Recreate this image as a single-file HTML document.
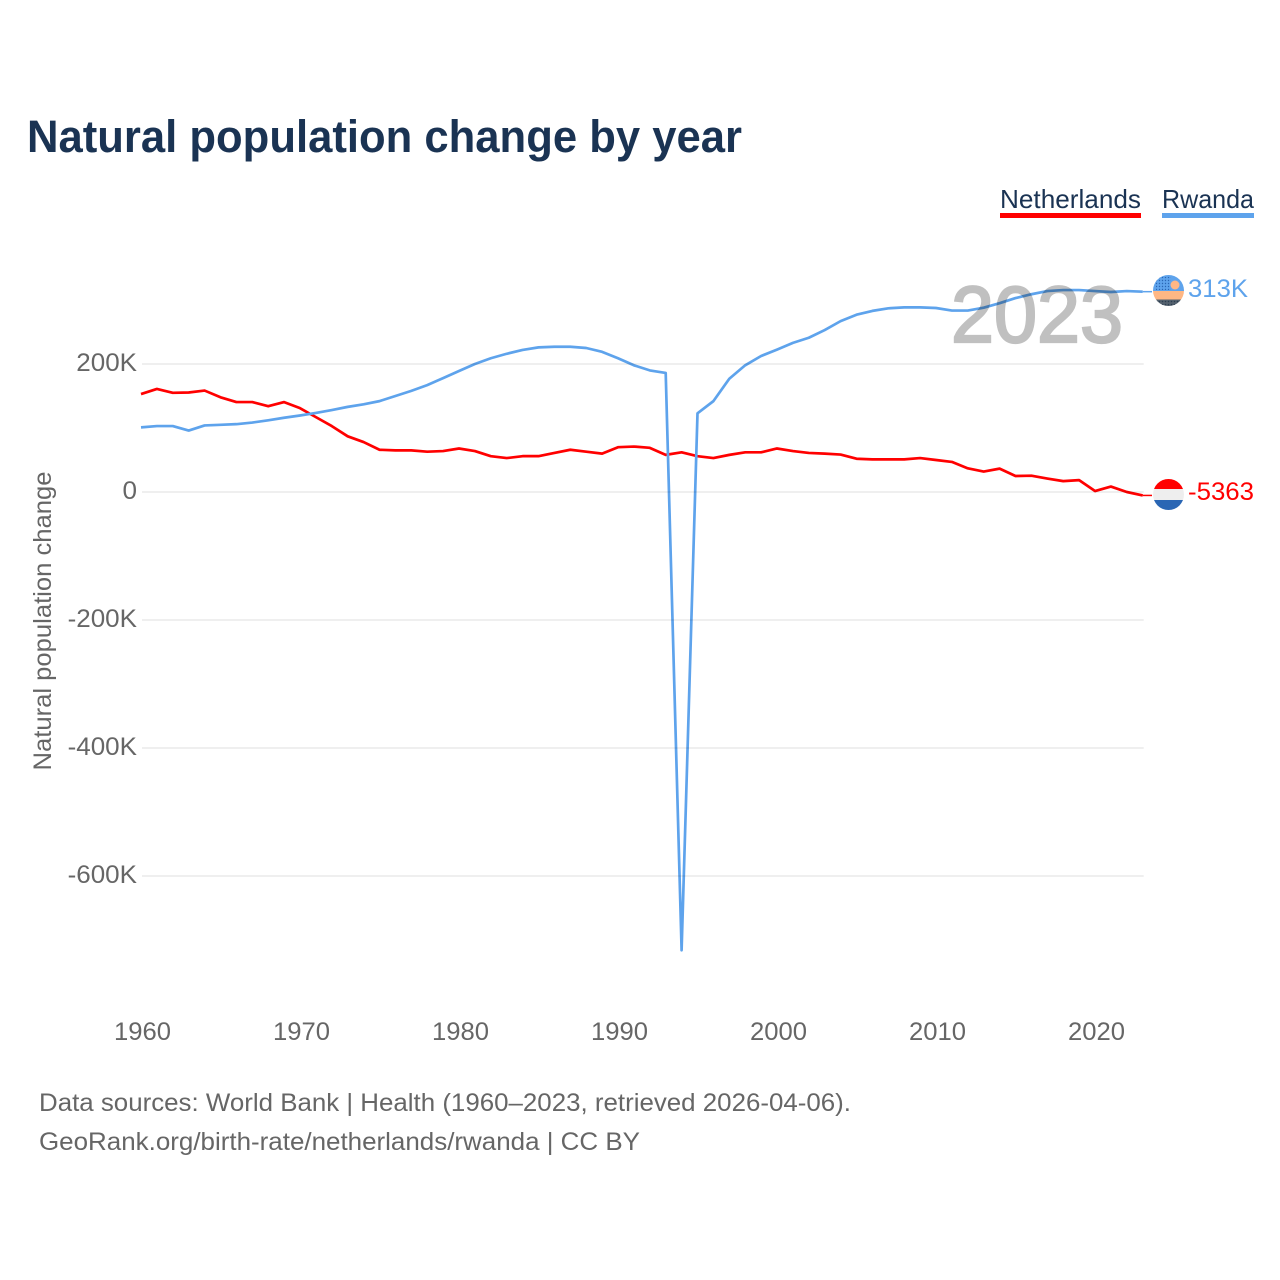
<!DOCTYPE html>
<html lang="en">
<head>
<meta charset="utf-8">
<title>Natural population change by year</title>
<style>
html,body{margin:0;padding:0;background:#fff;}
svg{display:block;font-family:"Liberation Sans",sans-serif;}
</style>
</head>
<body>
<svg id="chart" width="1280" height="1280" viewBox="0 0 1280 1280" xmlns="http://www.w3.org/2000/svg">
<defs>
<clipPath id="flag-clip-rw"><circle cx="1168.5" cy="290.5" r="15.5"/></clipPath>
<clipPath id="flag-clip-nl"><circle cx="1168.5" cy="494.5" r="15.5"/></clipPath>
<pattern id="dots-dark" width="3" height="3" patternUnits="userSpaceOnUse"><circle cx="1.5" cy="1.5" r="0.8" fill="#2c3e50"/></pattern>
<pattern id="dots-sky" width="3" height="3" patternUnits="userSpaceOnUse"><circle cx="1.5" cy="1.5" r="0.7" fill="#2a66b4"/></pattern>
</defs>
<rect width="1280" height="1280" fill="#fff"/>
<text x="27" y="152" font-size="45" font-weight="700" fill="#1a3353" textLength="715" lengthAdjust="spacingAndGlyphs">Natural population change by year</text>
<g id="grid"></g>
<g id="ylabels"></g>
<g id="xlabels"></g>
<text transform="translate(51,621) rotate(-90)" text-anchor="middle" font-size="25" fill="#666" textLength="299" lengthAdjust="spacingAndGlyphs">Natural population change</text>
<text x="951" y="342" font-size="80" font-weight="400" fill="#c0c0c0" stroke="#c0c0c0" stroke-width="2.2" textLength="172" lengthAdjust="spacingAndGlyphs">2023</text>
<g id="series" style="mix-blend-mode:multiply"></g>
<g>
<text x="1000" y="208" font-size="26" fill="#1a3353" textLength="141" lengthAdjust="spacingAndGlyphs">Netherlands</text>
<rect x="1000" y="213" width="141" height="5" fill="#ff0000"/>
</g>
<g>
<text x="1162" y="208" font-size="26" fill="#1a3353" textLength="92" lengthAdjust="spacingAndGlyphs">Rwanda</text>
<rect x="1162" y="213" width="92" height="5" fill="#5ea3ec"/>
</g>
<g clip-path="url(#flag-clip-rw)">
<rect x="1153" y="275" width="31" height="16" fill="#5ea3ec"/>
<rect x="1156" y="277" width="15" height="13" fill="url(#dots-sky)"/>
<rect x="1153" y="291" width="31" height="8.5" fill="#ffb784"/>
<rect x="1153" y="299.5" width="31" height="8" fill="#54616e"/>
<rect x="1153" y="299.5" width="31" height="8" fill="url(#dots-dark)"/>
<circle cx="1175" cy="285" r="4.5" fill="#ffb784"/>
</g>
<g clip-path="url(#flag-clip-nl)">
<rect x="1153" y="479" width="31" height="10" fill="#ff0000"/>
<rect x="1153" y="489" width="31" height="11" fill="#eeeeee"/>
<rect x="1153" y="500" width="31" height="10" fill="#2a66b4"/>
</g>
<text id="label-rw" x="1188" y="297" font-size="25" fill="#5ea3ec" textLength="60" lengthAdjust="spacingAndGlyphs"></text>
<text id="label-nl" x="1188" y="500" font-size="25" fill="#ff0000" textLength="66" lengthAdjust="spacingAndGlyphs"></text>
<text x="39" y="1111" font-size="25" fill="#666" textLength="812" lengthAdjust="spacingAndGlyphs">Data sources: World Bank | Health (1960–2023, retrieved 2026-04-06).</text>
<text x="39" y="1150" font-size="25" fill="#666" textLength="601" lengthAdjust="spacingAndGlyphs">GeoRank.org/birth-rate/netherlands/rwanda | CC BY</text>
</svg>
<script>
const firstYear = 1960;
const xTicks = [1960, 1970, 1980, 1990, 2000, 2010, 2020];
const yTicks = [200, 0, -200, -400, -600];
const yTickLabels = ["200K", "0", "-200K", "-400K", "-600K"];
const netherlandsValues = [153,161,155,155.5,158.5,148,140.5,140.5,134,140.5,131,117,103,87,78,66,65,65,63,64,68,64,56,53,56,56,61,66,63,60,70,71,69,58,62,56,53,58,62,62,68,64,61,60,58.5,52,51,51,51,53,50,47,37,32,36.5,25,25.5,21,17,18.5,1.5,8.5,0,-5.363];
const rwandaValues = [101,103,103,96,104,105,106,108.5,112,116,119.5,123.5,128,133,137,142,150,158,167,178,189,200,209,216,222,226,227,227,225,219,209,198,190,186,-716,123,142,177,198,212.5,222.5,233,241,253,267,277,283,287,288.5,288.5,287.5,283.5,283.5,288,295,303,309,314,315.5,315.5,314,312.5,314,313];
const netherlandsEndLabel = "-5363";
const rwandaEndLabel = "313K";

const SVGNS = "http://www.w3.org/2000/svg";
function xScale(year) { return 141 + (year - firstYear) * 15.9; }
function yScale(valueK) { return 492 - valueK * 0.64; }

const grid = document.getElementById("grid");
const yGroup = document.getElementById("ylabels");
const xGroup = document.getElementById("xlabels");
const series = document.getElementById("series");

yTicks.forEach(function (tick, i) {
  const line = document.createElementNS(SVGNS, "line");
  
  
  line.setAttribute("x1", xScale(firstYear) + 1);
  line.setAttribute("x2", 1143.7);
  line.setAttribute("y1", yScale(tick));
  line.setAttribute("y2", yScale(tick));
  line.setAttribute("stroke", "#eaeaea");
  line.setAttribute("stroke-width", "1.5");
  grid.appendChild(line);

  const label = document.createElementNS(SVGNS, "text");
  
  
  label.setAttribute("x", 137);
  label.setAttribute("y", yScale(tick) + 7);
  label.setAttribute("text-anchor", "end");
  label.setAttribute("font-size", "25");
  label.setAttribute("fill", "#666");
  label.textContent = yTickLabels[i];
  yGroup.appendChild(label);
  label.setAttribute("textLength", (label.getComputedTextLength() * 1.04).toFixed(1));
  label.setAttribute("lengthAdjust", "spacingAndGlyphs");
});

xTicks.forEach(function (year) {
  const label = document.createElementNS(SVGNS, "text");
  
  
  label.setAttribute("x", xScale(year) + 1.5);
  label.setAttribute("y", 1040);
  label.setAttribute("text-anchor", "middle");
  label.setAttribute("font-size", "25");
  label.setAttribute("fill", "#666");
  label.setAttribute("textLength", "57");
  label.setAttribute("lengthAdjust", "spacingAndGlyphs");
  label.textContent = String(year);
  xGroup.appendChild(label);
});

function pathFor(values) {
  return values.map(function (v, i) {
    return (i ? "L" : "M") + xScale(firstYear + i).toFixed(2) + " " + yScale(v).toFixed(2);
  }).join(" ");
}

const netherlandsLine = document.createElementNS(SVGNS, "path");


netherlandsLine.setAttribute("d", pathFor(netherlandsValues));
netherlandsLine.setAttribute("fill", "none");
netherlandsLine.setAttribute("stroke", "#ff0000");
netherlandsLine.setAttribute("stroke-width", "2.7");
netherlandsLine.setAttribute("stroke-linejoin", "round");
series.appendChild(netherlandsLine);

const rwandaLine = document.createElementNS(SVGNS, "path");


rwandaLine.setAttribute("d", pathFor(rwandaValues));
rwandaLine.setAttribute("fill", "none");
rwandaLine.setAttribute("stroke", "#5ea3ec");
rwandaLine.setAttribute("stroke-width", "2.7");
rwandaLine.setAttribute("stroke-linejoin", "round");
series.appendChild(rwandaLine);

const lastYear = firstYear + rwandaValues.length - 1;

const netherlandsLeader = document.createElementNS(SVGNS, "line");


netherlandsLeader.setAttribute("x1", xScale(lastYear));
netherlandsLeader.setAttribute("x2", 1152);
netherlandsLeader.setAttribute("y1", yScale(netherlandsValues[netherlandsValues.length - 1]));
netherlandsLeader.setAttribute("y2", yScale(netherlandsValues[netherlandsValues.length - 1]));
netherlandsLeader.setAttribute("stroke", "#ff0000");
netherlandsLeader.setAttribute("stroke-width", "1.5");
series.appendChild(netherlandsLeader);

const rwandaLeader = document.createElementNS(SVGNS, "line");


rwandaLeader.setAttribute("x1", xScale(lastYear));
rwandaLeader.setAttribute("x2", 1152);
rwandaLeader.setAttribute("y1", yScale(rwandaValues[rwandaValues.length - 1]));
rwandaLeader.setAttribute("y2", yScale(rwandaValues[rwandaValues.length - 1]));
rwandaLeader.setAttribute("stroke", "#5ea3ec");
rwandaLeader.setAttribute("stroke-width", "1.5");
series.appendChild(rwandaLeader);

document.getElementById("label-nl").textContent = netherlandsEndLabel;
document.getElementById("label-rw").textContent = rwandaEndLabel;
</script>
</body>
</html>
